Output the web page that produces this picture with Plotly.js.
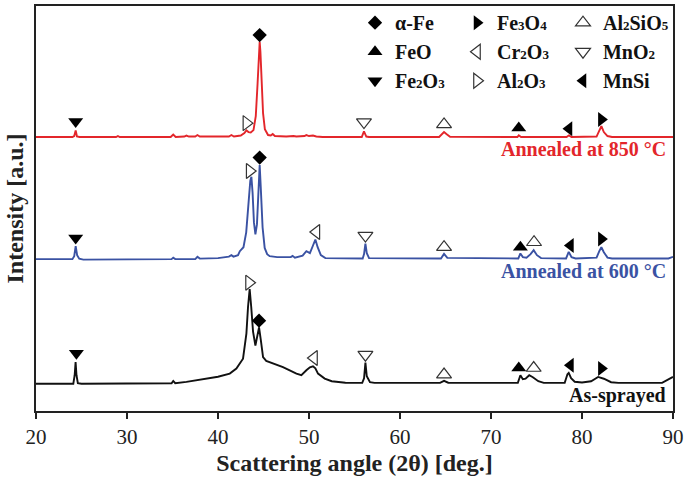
<!DOCTYPE html>
<html>
<head>
<meta charset="utf-8">
<script src="https://cdn.plot.ly/plotly-3.0.1.min.js"></script>
<style>html,body{margin:0;padding:0;background:#fff;}#chart{width:685px;height:479px;}</style>
</head>
<body>
<div id="chart"></div>
<script>
// ---- Data (2θ in degrees, intensity in arbitrary offset units) ----
const redX = [20,24.0,24.2,24.36,24.5,24.8,28.8,29.0,29.2,34.8,35.08,35.35,36.3,36.53,36.8,37.5,37.74,38.0,41.2,41.47,41.75,42.5,42.9,43.12,43.35,43.6,43.9,44.15,44.35,44.5,44.58,44.66,44.8,44.95,45.15,45.5,45.8,46.01,46.25,47.5,48.3,48.6,49.5,49.71,50.0,50.44,50.8,51.5,55.8,56.04,56.3,56.6,64.3,64.6,64.84,65.1,65.5,72.9,73.05,73.3,78.3,78.57,78.85,81.6,81.85,82.13,82.4,82.8,83.3,90];
const redY = [276,276,277,282.7,276.5,276,276,277,276,276,278.5,276,276.5,277.5,276.5,276.5,278,276.5,276.5,278,276.5,277.5,280,282.7,281,280.5,283,297,330,362,372,362,330,300,284,278,277.5,279,277,276.5,277,276.5,277,278,277,277.5,276.5,276,276,281.7,276.5,276,276,279,281,279,276.3,276,277.7,276,276,277.7,276,276.5,281,287,281,277,276,276];

const blueX = [20,24.0,24.2,24.36,24.52,24.75,25.2,30,34.9,35.08,35.3,37.5,37.74,38.0,40.0,41.2,41.47,41.7,42.2,42.4,42.8,43.1,43.35,43.55,43.67,43.8,43.95,44.11,44.28,44.45,44.58,44.7,44.9,45.13,45.4,45.68,46.5,48.0,48.2,48.45,49.3,49.71,50.1,50.45,50.7,50.95,51.3,51.8,55.9,56.05,56.2,56.35,56.6,64.5,64.84,65.2,73.0,73.23,73.5,73.9,74.35,74.69,75.05,75.5,78.25,78.54,78.85,79.3,81.6,81.9,82.13,82.4,82.8,83.3,89.5,90];
const blueY = [153,153,156,166,157,153.5,152.5,152.5,153,154.5,153,153,155.3,153.5,154,155.5,157,155.5,157,161,165,180,210,232,236,220,190,178,188,225,247.7,225,185,164.3,158,156,155,155,156.3,154.5,156.5,161,159,167,172.7,165,157,154,153.7,158,168.7,159,154,153.7,158.3,154.3,153.7,158.7,155,154.5,158,162,157,154,153.7,160.3,155,153.7,154.5,161,165,160,154.5,153.7,153.7,155.3];

const blackX = [20,24.1,24.25,24.35,24.45,24.6,25.0,34.9,35.08,35.3,36.53,38.73,40.0,41.29,42.02,42.75,43.12,43.3,43.48,43.65,43.85,44.11,44.3,44.51,44.7,44.95,45.3,45.68,47.14,48.62,49.16,49.71,50.1,50.44,50.7,50.99,51.73,52.5,54,55.85,56.05,56.2,56.35,56.7,57.2,64.4,64.84,65.3,72.95,73.23,73.5,73.8,74.2,74.6,75.2,75.8,78.1,78.4,78.54,78.8,79.2,80,81.0,81.77,82.4,83.2,84,88.8,89.4,90];
const blackY = [27.5,27.5,36,49.3,36,28,27.5,28,30.3,28,29.3,32.7,34.5,37.7,42.7,52.7,78,105,122.7,105,80,66,76,84.3,72,54.3,50.5,49.3,44.3,37.7,36,41,44,45,43,37.7,32.7,30,28.5,28.3,33,48.7,35,29,28.3,28.3,30.3,28.5,28.3,36,32,32.5,36,34,30,28.3,28.5,37,38.3,33,29.5,28.7,30,34.3,32.5,29,28.3,28.3,31,34.3];

// Phase markers (position of each symbol above its peak)
const aFeX = [44.58,44.58,44.51],        aFeY = [378.7,255.3,91];
const feoX = [73.05,73.23,73.05],        feoY = [285,165,43.3];
const fe2o3X = [24.36,24.36,24.44],      fe2o3Y = [291.7,174.3,58.3];
const fe3o4X = [82.13,82.13,82.13],      fe3o4Y = [293.7,173.3,42.7];
const cr2o3X = [50.81,50.55],            cr2o3Y = [180.3,53.3];
const al2o3X = [43.12,43.48,43.41],      al2o3Y = [290,241.7,129.3];
const al2sio5X = [64.84,64.84,74.73,64.84,74.69], al2sio5Y = [288.7,165,170,36.7,43.3];
const mno2X = [56.04,56.2,56.2],         mno2Y = [291,176.7,56.7];
const mnsiX = [78.57,78.73,78.73],       mnsiY = [284.3,166.7,46];

const sampleLabels = ['Annealed at 850 °C','Annealed at 600 °C','As-sprayed'];
const labelY = [264,141,16];
const xTicks = [20,30,40,50,60,70,80,90];

// ---- Styling ----
const SERIF = 'Liberation Serif, Times New Roman, serif';
const RED = '#e3262b', BLUE = '#3a52a3', BLACK = '#111';
const s = d => '<span style="font-size:13px">' + d + '</span>';

function curve(x,y,c){return {x:x,y:y,type:'scatter',mode:'lines',line:{color:c,width:1.9},showlegend:false,hoverinfo:'skip'};}
function phase(name,x,y,sym,size,open,leg){
  return {x:x,y:y,type:'scatter',mode:'markers',name:name,legend:leg,
    marker:{symbol:sym,size:size,color:open?'#333':'#000',line:{width:open?1.2:0,color:'#333'}},hoverinfo:'skip'};
}

const data = [
  curve(redX,redY,RED), curve(blueX,blueY,BLUE), curve(blackX,blackY,BLACK),
  phase('α-Fe',aFeX,aFeY,'diamond',11,false,'legend'),
  phase('FeO',feoX,feoY,'triangle-up',13,false,'legend'),
  phase('Fe'+s(2)+'O'+s(3),fe2o3X,fe2o3Y,'triangle-down',13,false,'legend'),
  phase('Fe'+s(3)+'O'+s(4),fe3o4X,fe3o4Y,'triangle-right',13,false,'legend2'),
  phase('Cr'+s(2)+'O'+s(3),cr2o3X,cr2o3Y,'triangle-left-open',13,true,'legend2'),
  phase('Al'+s(2)+'O'+s(3),al2o3X,al2o3Y,'triangle-right-open',13,true,'legend2'),
  phase('Al'+s(2)+'SiO'+s(5),al2sio5X,al2sio5Y,'triangle-up-open',13,true,'legend3'),
  phase('MnO'+s(2),mno2X,mno2Y,'triangle-down-open',13,true,'legend3'),
  phase('MnSi',mnsiX,mnsiY,'triangle-left',13,false,'legend3')
];

const legFont = {family:SERIF,size:20,color:'#111',weight:'bold'};
function leg(x){return {x:x,y:1.007,xanchor:'left',yanchor:'top',orientation:'v',bgcolor:'rgba(0,0,0,0)',borderwidth:0,font:legFont,itemsizing:'trace',tracegroupgap:0};}

const layout = {
  width:685,height:479,
  margin:{l:36,r:12,t:3,b:68},
  paper_bgcolor:'#fff',plot_bgcolor:'#fff',
  font:{family:SERIF,color:'#111'},
  showlegend:true,
  legend:leg(0.5008), legend2:leg(0.6609), legend3:leg(0.8273),
  xaxis:{range:[20,90],tickvals:xTicks,ticktext:xTicks.map(String),ticks:'outside',ticklen:6,tickwidth:2,tickcolor:'#222',
    showline:true,linewidth:2,linecolor:'#222',mirror:true,showgrid:false,zeroline:false,
    tickfont:{family:SERIF,size:21,color:'#222'},
    title:{text:'Scattering angle (2θ) [deg.]',font:{family:SERIF,size:24,color:'#222',weight:'bold'},standoff:6}},
  yaxis:{range:[0,408],showticklabels:false,ticks:'',showline:true,linewidth:2,linecolor:'#222',mirror:true,showgrid:false,zeroline:false,
    title:{text:'Intensity [a.u.]',font:{family:SERIF,size:24,color:'#222',weight:'bold'},standoff:4}},
  annotations: sampleLabels.map((t,i)=>({x:89.45,y:labelY[i],xref:'x',yref:'y',xanchor:'right',yanchor:'middle',showarrow:false,
    text:t,font:{family:SERIF,size:20,weight:'bold',color:[RED,BLUE,BLACK][i]}}))
};

Plotly.newPlot('chart',data,layout,{staticPlot:true});
</script>
</body>
</html>
